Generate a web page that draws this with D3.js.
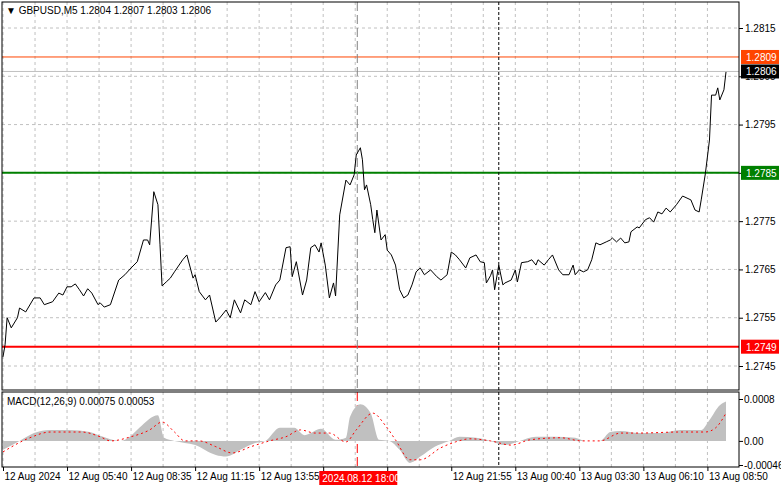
<!DOCTYPE html>
<html>
<head>
<meta charset="utf-8">
<script src="https://cdn.jsdelivr.net/npm/d3@7"></script>
<style>
	body { margin: 0; background: #fff; }
	text { font-family: "Liberation Sans", Arial, sans-serif; font-size: 10px; }
</style>
</head>
<body>
<div id="container"></div>
<script>
// bar index (M5 bars from 12 Aug 03:05) and close prices
const bars = [0,1,2,4,7,8,11,15,18,20,24,27,29,31,33,35,37,39,41,43,46,47,49,52,56,59,62,65,68,70,71,73,75,76,77,79,81,83,87,89,92,93,95,98,100,103,105,108,110,112,115,117,120,122,124,127,129,132,134,137,139,140,142,145,147,149,151,153,154,156,158,160,161,163,166,168,170,171,173,174,175,176,178,179,180,181,183,185,186,188,190,192,194,196,198,200,202,204,207,210,212,215,217,219,221,224,226,229,231,233,234,236,237,238,240,242,243,246,248,249,251,254,256,258,259,262,264,266,269,271,274,276,277,279,281,283,285,287,289,292,294,295,297,299,301,303,304,307,308,311,313,315,317,319,321,323,326,329,333,335,337,338,340,342,343,345,346,347,349,350];
const closes = [1.27469,1.27494,1.2755,1.27529,1.2755,1.2757,1.27562,1.27591,1.27591,1.27577,1.27583,1.27601,1.27597,1.27614,1.27614,1.2762,1.27608,1.27595,1.2761,1.27601,1.27577,1.27581,1.27572,1.27577,1.27628,1.27639,1.27653,1.27666,1.27711,1.27711,1.27701,1.27811,1.27784,1.27701,1.27616,1.27624,1.27632,1.27645,1.2767,1.2768,1.27632,1.27639,1.27604,1.27587,1.27597,1.27541,1.2755,1.27566,1.2755,1.27587,1.2756,1.27587,1.27577,1.27604,1.27583,1.27602,1.27587,1.27618,1.27628,1.27695,1.27697,1.27635,1.27666,1.27597,1.27628,1.27695,1.27701,1.27686,1.27705,1.27659,1.27591,1.27622,1.27595,1.27763,1.27835,1.27825,1.27846,1.27887,1.27902,1.27877,1.27815,1.27825,1.27784,1.27753,1.27726,1.27773,1.27711,1.27722,1.2769,1.2768,1.27659,1.27608,1.27591,1.27597,1.27618,1.27645,1.27653,1.27639,1.27649,1.27635,1.27628,1.27639,1.27686,1.2768,1.2767,1.27653,1.27674,1.2768,1.27666,1.27664,1.27622,1.27637,1.27649,1.27608,1.27659,1.27618,1.27622,1.27628,1.27649,1.27624,1.27664,1.27666,1.2767,1.27659,1.2767,1.27659,1.2767,1.2768,1.27649,1.27639,1.27639,1.27659,1.27639,1.27649,1.27645,1.27649,1.2767,1.27705,1.27701,1.27707,1.27711,1.27715,1.27707,1.27715,1.27705,1.27707,1.27728,1.27738,1.27736,1.27753,1.27757,1.27748,1.27769,1.27765,1.27777,1.27769,1.27784,1.27802,1.27794,1.27773,1.27769,1.27794,1.27848,1.27918,1.28011,1.28011,1.28026,1.28001,1.28022,1.28059];

// MACD main (histogram) and signal
const histBars = [0,8,15,23,32,42,47,57,62,66,75,78,83,93,103,108,115,122,127,134,141,146,154,161,166,168,173,178,182,187,192,197,202,209,216,221,229,236,243,250,258,267,277,282,289,294,299,308,318,328,338,342,347,350];
const histValues = [-0.00017,0,0.00015,0.00021,0.00021,0.00017,0.0001,0,0.0001,0.00025,0.00049,0.00006,0,-0.00008,-0.00027,-0.0003,-0.00017,-0.00004,0,0.00025,0.00025,0.00011,0.00023,0.00002,0.00006,0.00046,0.0007,0.00053,0.00002,0,-0.00017,-0.00042,-0.0003,-0.00011,0,0.00008,0.00006,0,-0.00008,0,0.00008,0.00008,0.00006,0,0,0.00017,0.00019,0.00015,0.00015,0.00021,0.00021,0.0004,0.00068,0.00075];
const sigBars = [0,13,23,38,47,52,62,71,77,83,88,95,103,111,120,129,137,144,151,158,166,171,179,185,190,197,202,212,219,226,236,246,255,270,280,289,299,308,328,340,345,350];
const sigValues = [-0.00021,0.00006,0.00017,0.00017,0.00008,0,0.00008,0.00021,0.00036,0.00017,0,0,-0.00011,-0.00023,-0.00011,0,0.00008,0.00021,0.00015,0.00015,-0.00002,0.00021,0.00053,0.0003,0.00002,-0.00036,-0.00036,-0.00013,-0.00002,0.00004,0,-0.00008,0.00002,0.00006,0,0,0.00015,0.00015,0.00017,0.00017,0.00025,0.00053];

const priceTicks = [1.2815,1.2805,1.2795,1.2785,1.2775,1.2765,1.2755,1.2745];
const timeLabels = ["12 Aug 2024","12 Aug 05:40","12 Aug 08:35","12 Aug 11:15","12 Aug 13:55","12 Aug 16:35","12 Aug 19:15","12 Aug 21:55","13 Aug 00:40","13 Aug 03:30","13 Aug 06:10","13 Aug 08:50"];
const labelStep = 31;
const levels = [
	{ value: 1.2809, color: "#ff4500", width: 1 },
	{ value: 1.2785, color: "#008000", width: 2 },
	{ value: 1.2749, color: "#ff0000", width: 2 },
];
const lastPrice = 1.2806;
const crossBar = 171.5, crossLabel = "2024.08.12 18:00";
const sessionBar = 240;

const width = 781, height = 489;
const main = { left: 2, right: 739, top: 2, bottom: 390 };
const sub = { top: 392, bottom: 467 };

const svg = d3.select("#container").append("svg").attr("width", width).attr("height", height);

const x = d3.scaleLinear().domain([0, 350]).range([3, 726]);
const y = d3.scaleLinear().domain([1.2745, 1.2815]).range([366, 28]);
const ym = d3.scaleLinear().domain([-0.00046, 0.0008]).range([465, 399]);

// grid
const gridBars = d3.range(0, 370, labelStep / 2);
svg.append("g").selectAll("line").data(gridBars.filter(b => x(b) < main.right)).enter().append("line")
	.attr("x1", d => x(d)).attr("x2", d => x(d)).attr("y1", main.top).attr("y2", sub.bottom)
	.attr("stroke", "#c0c0c0").attr("stroke-dasharray", "3,3");
svg.append("g").selectAll("line").data(priceTicks).enter().append("line")
	.attr("x1", main.left).attr("x2", main.right).attr("y1", d => y(d)).attr("y2", d => y(d))
	.attr("stroke", "#c0c0c0").attr("stroke-dasharray", "3,3");

svg.append("rect").attr("x", main.left).attr("y", main.bottom).attr("width", main.right - main.left).attr("height", sub.top - main.bottom).attr("fill", "#fff");

// levels
svg.append("line").attr("x1", main.left).attr("x2", main.right).attr("y1", y(lastPrice)).attr("y2", y(lastPrice)).attr("stroke", "#c0c0c0");
svg.append("g").selectAll("line").data(levels).enter().append("line")
	.attr("x1", main.left).attr("x2", main.right).attr("y1", d => y(d.value)).attr("y2", d => y(d.value))
	.attr("stroke", d => d.color).attr("stroke-width", d => d.width);

// vertical markers
svg.append("line").attr("x1", x(crossBar)).attr("x2", x(crossBar)).attr("y1", main.top).attr("y2", main.bottom)
	.attr("stroke", "#808080").attr("stroke-dasharray", "9,4");
svg.append("line").attr("x1", x(crossBar)).attr("x2", x(crossBar)).attr("y1", sub.top).attr("y2", sub.bottom)
	.attr("stroke", "#ff0000").attr("stroke-dasharray", "9,4");
svg.append("line").attr("x1", x(sessionBar)).attr("x2", x(sessionBar)).attr("y1", main.top).attr("y2", sub.bottom)
	.attr("stroke", "#000").attr("stroke-dasharray", "3,2");

// price line
const pts = bars.map((b, i) => [b, closes[i]]);
svg.append("path").attr("d", d3.line().x(d => x(d[0])).y(d => y(d[1]))(pts))
	.attr("fill", "none").attr("stroke", "#000").attr("stroke-width", 1);

// MACD
const hist = histBars.map((b, i) => [b, histValues[i]]);
svg.append("path").attr("d", d3.area().x(d => x(d[0])).y0(ym(0)).y1(d => ym(d[1])).curve(d3.curveMonotoneX)(hist))
	.attr("fill", "#c0c0c0");
const sig = sigBars.map((b, i) => [b, sigValues[i]]);
svg.append("path").attr("d", d3.line().x(d => x(d[0])).y(d => ym(d[1])).curve(d3.curveMonotoneX)(sig))
	.attr("fill", "none").attr("stroke", "#ff0000").attr("stroke-dasharray", "2,3");

// frames
svg.append("rect").attr("x", main.left).attr("y", main.top).attr("width", main.right - main.left).attr("height", main.bottom - main.top)
	.attr("fill", "none").attr("stroke", "#000");
svg.append("rect").attr("x", main.left).attr("y", sub.top).attr("width", main.right - main.left).attr("height", sub.bottom - sub.top)
	.attr("fill", "none").attr("stroke", "#000");

// right axes
const yAxis = d3.axisRight(y).tickValues(priceTicks).tickSize(4).tickFormat(d3.format(".4f"));
const ga = svg.append("g").attr("transform", `translate(${main.right},0)`).call(yAxis);
ga.select(".domain").remove();
ga.selectAll("text").attr("x", 6).attr("fill", "#000").style("font-size", "10px");

const mTicks = [0.0008, 0, -0.00046];
const gm = svg.append("g").attr("transform", `translate(${main.right},0)`)
	.call(d3.axisRight(ym).tickValues(mTicks).tickSize(4).tickFormat(d => d === 0 ? "0.00" : d === 0.0008 ? "0.0008" : "-0.00046"));
gm.select(".domain").remove();
gm.selectAll("text").attr("x", 5).attr("fill", "#000").style("font-size", "10px");

// price tags
const tags = levels.map(l => ({ value: l.value, color: l.color })).concat([{ value: lastPrice, color: "#000" }]);
const tg = svg.append("g").selectAll("g").data(tags).enter().append("g")
	.attr("transform", d => `translate(${main.right + 2},${y(d.value) - 7})`);
tg.append("rect").attr("width", 38).attr("height", 14).attr("fill", d => d.color);
tg.append("text").attr("x", 5).attr("y", 11).attr("fill", "#fff").text(d => d.value.toFixed(4));

// x axis (label hidden under crosshair time tag is skipped)
const xAxis = d3.axisBottom(x).tickValues(timeLabels.map((t, i) => i * labelStep)).tickSize(4)
	.tickFormat((d, i) => Math.abs(d - crossBar) < labelStep / 2 ? "" : timeLabels[i]);
const gx = svg.append("g").attr("transform", `translate(0,${sub.bottom})`).call(xAxis);
gx.select(".domain").remove();
gx.selectAll("text").attr("text-anchor", "start").attr("x", 1).attr("y", 6).attr("fill", "#000");

// crosshair time label
const cl = svg.append("g").attr("transform", `translate(${x(crossBar) - 38},${sub.bottom + 4})`);
cl.append("rect").attr("width", 78).attr("height", 14).attr("fill", "#ff0000");
cl.append("text").attr("x", 3).attr("y", 11).attr("fill", "#fff").text(crossLabel);

// titles
svg.append("text").attr("x", 6).attr("y", 14).text("\u25BC GBPUSD,M5  1.2804 1.2807 1.2803 1.2806");
svg.append("text").attr("x", 7).attr("y", 405).text("MACD(12,26,9) 0.00075 0.00053");
</script>
</body>
</html>
